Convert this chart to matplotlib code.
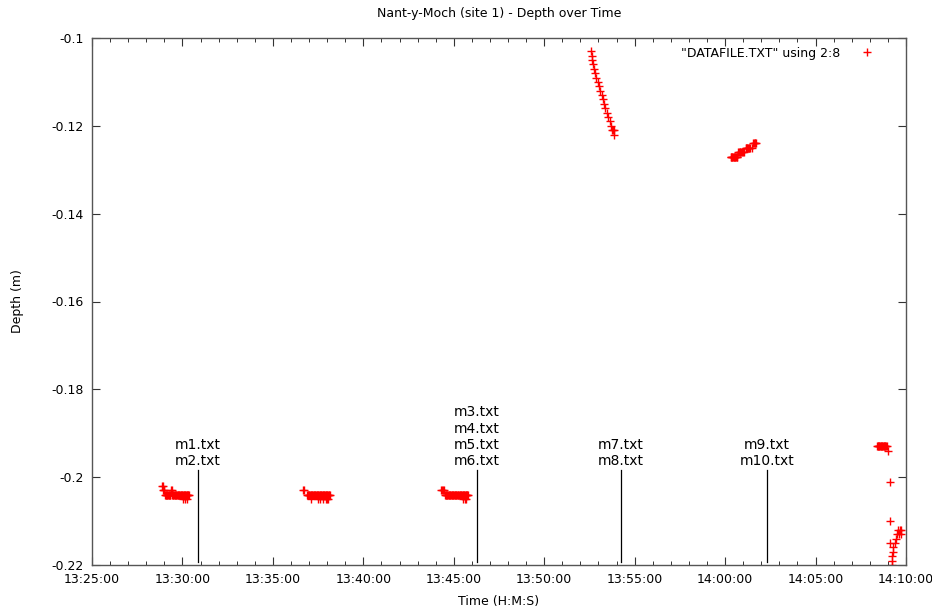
import matplotlib
matplotlib.use("Agg")
import matplotlib.pyplot as plt
from matplotlib.ticker import FuncFormatter, MultipleLocator

# depth readings (m) against clock time, one pair of lists per logging run
run1_t = """13:28:52 13:28:54 13:28:56 13:28:58 13:29:00 13:29:02 13:29:04 13:29:06
13:29:08 13:29:10 13:29:12 13:29:14 13:29:16 13:29:18 13:29:20 13:29:22 13:29:24
13:29:26 13:29:28 13:29:30 13:29:32 13:29:34 13:29:36 13:29:38 13:29:40 13:29:42
13:29:44 13:29:46 13:29:48 13:29:50 13:29:52 13:29:54 13:29:56 13:29:58 13:30:00
13:30:02 13:30:04 13:30:06 13:30:08 13:30:10 13:30:12 13:30:14 13:30:16 13:30:18
13:30:20 13:30:22 13:30:02 13:30:10 13:30:16""".split()
run1_d = [-0.202, -0.202, -0.203, -0.203, -0.203, -0.204, -0.204, -0.204,
          -0.204, -0.204, -0.204, -0.204, -0.204, -0.204, -0.204, -0.203, -0.203,
          -0.204, -0.204, -0.204, -0.204, -0.204, -0.204, -0.204, -0.204, -0.204,
          -0.204, -0.204, -0.204, -0.204, -0.204, -0.204, -0.204, -0.204, -0.204,
          -0.204, -0.204, -0.204, -0.204, -0.204, -0.204, -0.204, -0.204, -0.204,
          -0.204, -0.204, -0.205, -0.205, -0.205]

run2_t = """13:36:40 13:36:42 13:36:53 13:36:55 13:36:57 13:36:59 13:37:01 13:37:03
13:37:05 13:37:07 13:37:09 13:37:11 13:37:13 13:37:15 13:37:17 13:37:19 13:37:21
13:37:23 13:37:25 13:37:27 13:37:29 13:37:31 13:37:33 13:37:35 13:37:37 13:37:39
13:37:41 13:37:43 13:37:45 13:37:47 13:37:49 13:37:51 13:37:53 13:37:55 13:37:57
13:37:59 13:38:01 13:38:03 13:38:05 13:38:07 13:38:09 13:37:06 13:37:31 13:37:35
13:37:45 13:37:57 13:37:59 13:38:03""".split()
run2_d = [-0.203, -0.203, -0.204, -0.204, -0.204, -0.204, -0.204, -0.204,
          -0.204, -0.204, -0.204, -0.204, -0.204, -0.204, -0.204, -0.204, -0.204,
          -0.204, -0.204, -0.204, -0.204, -0.204, -0.204, -0.204, -0.204, -0.204,
          -0.204, -0.204, -0.204, -0.204, -0.204, -0.204, -0.204, -0.204, -0.204,
          -0.204, -0.204, -0.204, -0.204, -0.204, -0.204, -0.205, -0.205, -0.205,
          -0.205, -0.205, -0.205, -0.205]

run3_t = """13:44:17 13:44:20 13:44:24 13:44:27 13:44:31 13:44:33 13:44:35 13:44:37
13:44:39 13:44:41 13:44:43 13:44:45 13:44:47 13:44:49 13:44:51 13:44:53 13:44:55
13:44:57 13:44:59 13:45:01 13:45:03 13:45:05 13:45:07 13:45:09 13:45:11 13:45:13
13:45:15 13:45:17 13:45:19 13:45:21 13:45:23 13:45:25 13:45:27 13:45:29 13:45:31
13:45:33 13:45:35 13:45:37 13:45:39 13:45:41 13:45:43 13:45:45 13:45:47 13:45:30
13:45:36 13:45:40""".split()
run3_d = [-0.203, -0.203, -0.203, -0.203, -0.204, -0.204, -0.204, -0.204,
          -0.204, -0.204, -0.204, -0.204, -0.204, -0.204, -0.204, -0.204, -0.204,
          -0.204, -0.204, -0.204, -0.204, -0.204, -0.204, -0.204, -0.204, -0.204,
          -0.204, -0.204, -0.204, -0.204, -0.204, -0.204, -0.204, -0.204, -0.204,
          -0.204, -0.204, -0.204, -0.204, -0.204, -0.204, -0.204, -0.204, -0.205,
          -0.205, -0.205]

run4_t = """13:52:35 13:52:37 13:52:40 13:52:42 13:52:45 13:52:48 13:52:53 13:52:57
13:53:02 13:53:06 13:53:10 13:53:14 13:53:18 13:53:23 13:53:27 13:53:32 13:53:37
13:53:42 13:53:46 13:53:48 13:53:50 13:53:51""".split()
run4_d = [-0.103, -0.104, -0.105, -0.106, -0.107, -0.108, -0.109, -0.110,
          -0.111, -0.112, -0.113, -0.114, -0.115, -0.116, -0.117, -0.118, -0.119,
          -0.120, -0.121, -0.121, -0.122, -0.121]

run5_t = """14:00:18 14:00:20 14:00:22 14:00:24 14:00:26 14:00:28 14:00:30 14:00:32
14:00:34 14:00:36 14:00:38 14:00:40 14:00:44 14:00:46 14:00:48 14:00:50 14:00:52
14:00:56 14:01:00 14:01:04 14:01:08 14:01:10 14:01:12 14:01:14 14:01:16 14:01:18
14:01:20 14:01:24 14:01:28 14:01:34 14:01:36 14:01:38 14:01:40 14:01:42""".split()
run5_d = [-0.127, -0.127, -0.127, -0.127, -0.127, -0.127, -0.127, -0.127,
          -0.127, -0.127, -0.127, -0.127, -0.126, -0.126, -0.126, -0.126, -0.126,
          -0.126, -0.126, -0.126, -0.125, -0.125, -0.125, -0.125, -0.125, -0.125,
          -0.125, -0.125, -0.125, -0.124, -0.124, -0.124, -0.124, -0.124]

run6_t = """14:08:24 14:08:26 14:08:28 14:08:30 14:08:32 14:08:34 14:08:36 14:08:38
14:08:40 14:08:42 14:08:44 14:08:46 14:08:48 14:08:50 14:08:52 14:08:54 14:08:56
14:09:00 14:09:06 14:09:06 14:09:12 14:09:12 14:09:14 14:09:16 14:09:18 14:09:08
14:09:22 14:09:26 14:09:30 14:09:36 14:09:42 14:09:34 14:09:40 14:09:44""".split()
run6_d = [-0.193, -0.193, -0.193, -0.193, -0.193, -0.193, -0.193, -0.193,
          -0.193, -0.193, -0.193, -0.193, -0.193, -0.193, -0.193, -0.193, -0.193,
          -0.194, -0.201, -0.210, -0.220, -0.219, -0.218, -0.217, -0.216, -0.215,
          -0.215, -0.214, -0.213, -0.213, -0.213, -0.212, -0.212, -0.212]

# file markers: time and label text
mark_t = ["13:30:52", "13:46:17", "13:54:14", "14:02:19"]
mark_txt = ["m1.txt\nm2.txt", "m3.txt\nm4.txt\nm5.txt\nm6.txt",
            "m7.txt\nm8.txt", "m9.txt\nm10.txt"]
mark_top = -0.1983
mark_bot = -0.2193

y_ticks = [-0.1, -0.12, -0.14, -0.16, -0.18, -0.2, -0.22]


def secs(s):
    h, m, sec = (int(v) for v in s.split(":"))
    return h * 3600 + m * 60 + sec


def hms(x, pos=None):
    x = int(round(x))
    return "%02d:%02d:%02d" % (x // 3600, (x // 60) % 60, x % 60)


plt.rcParams["font.family"] = "DejaVu Sans"

fig = plt.figure(figsize=(9.32, 6.09), dpi=100)
ax = fig.add_axes([92 / 932, 44 / 609, 814 / 932, 527 / 609])

all_t, all_d = [], []
for tt, dd in [(run1_t, run1_d), (run2_t, run2_d), (run3_t, run3_d),
               (run4_t, run4_d), (run5_t, run5_d), (run6_t, run6_d)]:
    all_t += [secs(s) for s in tt]
    all_d += dd

ax.plot(all_t, all_d, linestyle="none", marker="+", markersize=5.5,
        markeredgewidth=1.0, color="#ff0000", label='"DATAFILE.TXT" using 2:8')

for t, txt in zip(mark_t, mark_txt):
    x = secs(t)
    ax.plot([x, x], [mark_top, mark_bot], color="black", lw=0.9)
    ax.text(x, mark_top + 0.0004, txt, ha="center", va="bottom",
            fontsize=10, linespacing=1.2, color="black")

ax.set_xlim(secs("13:25:00"), secs("14:10:00"))
ax.set_ylim(-0.22, -0.1)
ax.xaxis.set_major_locator(MultipleLocator(300))
ax.xaxis.set_minor_locator(MultipleLocator(60))
ax.xaxis.set_major_formatter(FuncFormatter(hms))
ax.set_yticks(y_ticks)
ax.set_yticklabels(["%g" % v for v in y_ticks])

ax.tick_params(which="both", direction="in", top=True, right=True,
               labelsize=9, color="#333333", pad=6)
ax.tick_params(which="major", length=6, width=0.8)
ax.tick_params(which="minor", length=3, width=0.7)
for sp in ax.spines.values():
    sp.set_color("#555555")
    sp.set_linewidth(1.0)

ax.set_title("Nant-y-Moch (site 1) - Depth over Time", fontsize=9, pad=15)
ax.set_xlabel("Time (H:M:S)", fontsize=9, labelpad=6)
ax.set_ylabel("Depth (m)", fontsize=9, labelpad=20)

ax.legend(loc="upper right", frameon=False, markerfirst=False, fontsize=9,
          handlelength=3.2, handletextpad=0.6, borderaxespad=0.3,
          bbox_to_anchor=(0.988, 1.0))

fig.savefig("out.png", dpi=100)
